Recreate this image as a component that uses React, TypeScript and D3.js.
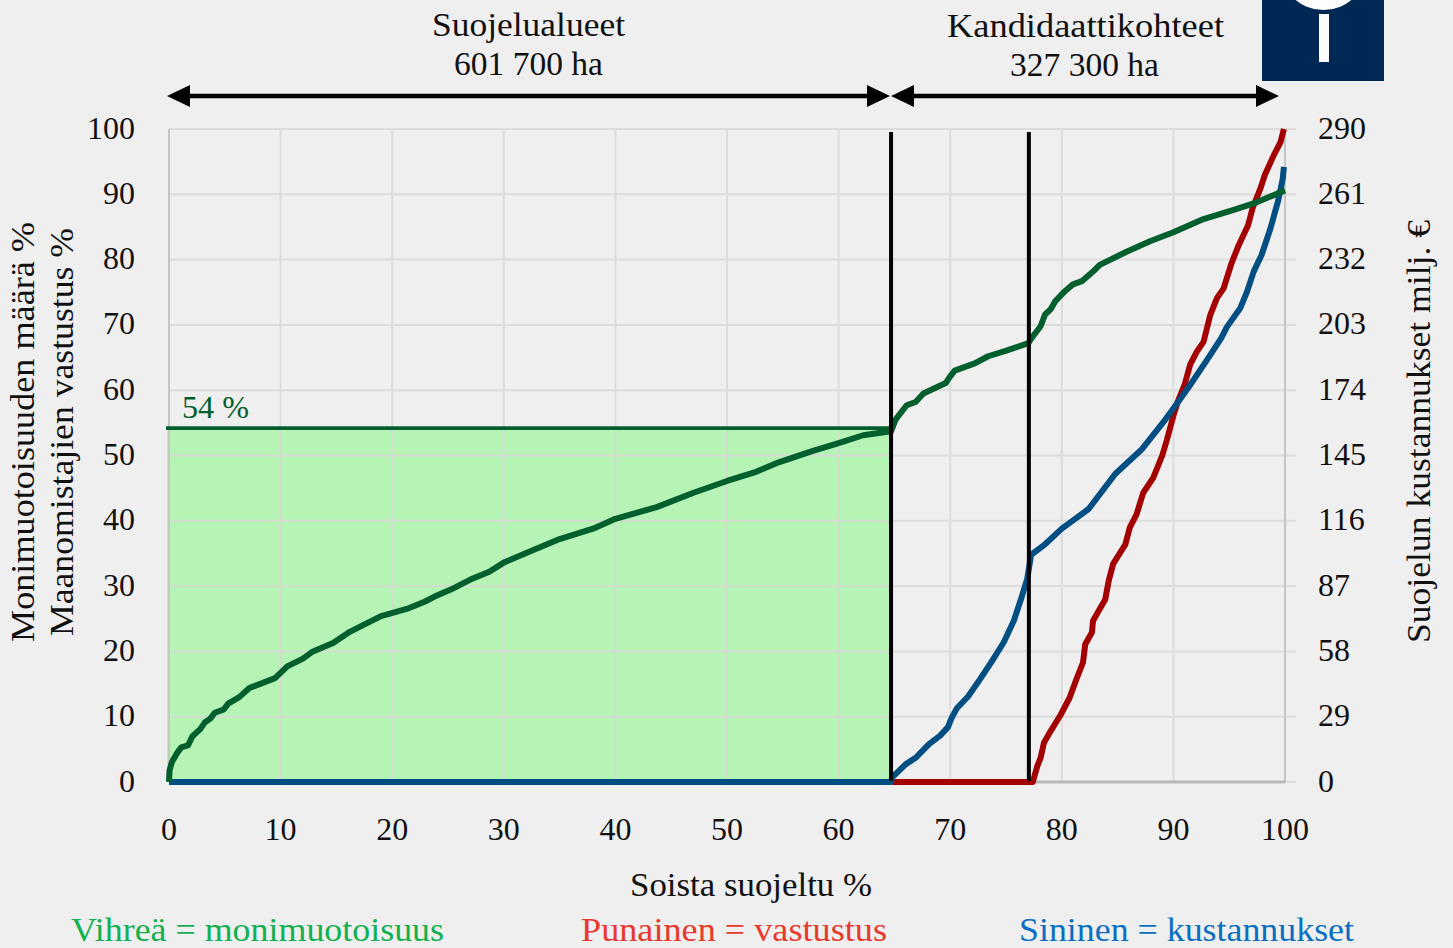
import React from "react";
import * as d3 from "d3";

type P = [number, number];
const leftTicks = [0, 10, 20, 30, 40, 50, 60, 70, 80, 90, 100];
const rightTicks = [0, 29, 58, 87, 116, 145, 174, 203, 232, 261, 290];
const xTicks = [0, 10, 20, 30, 40, 50, 60, 70, 80, 90, 100];

const diversity: P[] = [[0,0],[0.05,1.8],[0.27,3.1],[0.75,4.5],[1.1,5.3],[1.7,5.6],[2.1,7],[2.8,8.1],[3.2,9.1],[3.7,9.7],[4.1,10.6],[4.9,11.1],[5.3,12],[6.3,13],[7.2,14.4],[9.5,15.9],[10.6,17.7],[12,18.9],[12.9,20],[14.7,21.3],[16.2,23],[17.7,24.3],[19,25.4],[21.3,26.5],[22.9,27.6],[23.8,28.4],[25.3,29.5],[27,31],[28.7,32.2],[30,33.6],[32.6,35.5],[35,37.2],[38,38.8],[40,40.3],[43.7,42.1],[47,44.3],[50,46.1],[52.6,47.5],[54.7,49],[57.7,50.7],[60,51.9],[62.2,53.1],[64.7,53.7],[65.1,55.5],[66.1,57.7],[66.9,58.2],[67.6,59.5],[69.6,61.1],[69.9,61.9],[70.4,63],[72.2,64.1],[73.4,65.2],[75.1,66.1],[77,67.2],[77.3,68],[78.1,69.8],[78.5,71.6],[79,72.4],[79.4,73.6],[80.3,75.2],[81,76.2],[81.8,76.7],[83,78.5],[83.4,79.2],[85.8,81.2],[87.9,82.8],[90,84.2],[92.7,86.2],[95.4,87.6],[97.2,88.6],[100,90.6]];
const costs: P[] = [[0,0],[64.7,0],[64.8,0.7],[66,2.7],[66.9,3.7],[68.1,5.8],[69.1,7.1],[69.8,8.4],[70.1,9.7],[70.6,11.3],[71.6,13.1],[72.5,15.3],[73.7,18.4],[74.8,21.4],[75.7,24.7],[76.4,28.3],[76.9,31.1],[77.25,34.8],[78.5,36.4],[80,38.8],[82.4,41.8],[84.8,47.2],[87.2,51],[89.1,55.1],[90.6,58.6],[91.5,60.8],[93,64.6],[94.3,68],[94.8,69.7],[96,72.6],[96.6,75.1],[97.2,78.2],[97.9,80.7],[98.7,84.8],[99.4,89.1],[99.8,92.4],[99.9,94.2]];
const opposition: P[] = [[64.8,0],[77.4,0],[77.8,2.4],[78.1,3.7],[78.4,6],[79,7.8],[79.9,10.3],[80.7,12.9],[81.3,15.7],[81.9,18.3],[82.1,21.1],[82.7,22.9],[82.8,24.7],[83.9,28],[84.2,30.8],[84.6,33.4],[85.7,36.4],[86.1,39],[86.7,41],[87.3,44.3],[88.2,46.6],[89,50],[89.4,52.3],[90,56.1],[90.4,58.3],[91,60.8],[91.5,63.9],[92.1,65.9],[92.7,67.4],[93.3,71.5],[93.9,74.1],[94.5,75.6],[95.2,79.4],[95.8,82],[96.7,85.3],[97.1,87.9],[97.8,90.9],[98.2,93],[99,96],[99.6,98],[99.9,100]];
const protectedShare = 64.7;
const protectedLevel = 54.2;
const candidateShare = 77.05;

const FONT = "'Liberation Serif', serif";
const GREEN = "#005f2d";
const x = d3.scaleLinear().domain([0, 100]).range([169, 1285]);
const y = d3.scaleLinear().domain([0, 100]).range([782, 129]);
const yR = d3.scaleLinear().domain([0, 290]).range([782, 129]);
const line = d3.line<P>().x((d) => x(d[0])).y((d) => y(d[1])).curve(d3.curveLinear);

function Arrow({ x1, x2, py }: { x1: number; x2: number; py: number }) {
  const h = 23, w = 11;
  return (
    <g fill="#000">
      <line x1={x1 + h - 2} x2={x2 - h + 2} y1={py} y2={py} stroke="#000" strokeWidth={4.5} />
      <path d={`M${x1},${py}L${x1 + h},${py - w}L${x1 + h},${py + w}Z`} />
      <path d={`M${x2},${py}L${x2 - h},${py - w}L${x2 - h},${py + w}Z`} />
    </g>
  );
}

const T = (p: any) => <text fontFamily={FONT} fontSize={32} fill="#111" {...p} />;
const L = ({ len, ...p }: any) => <text fontFamily={FONT} fontSize={33} fill="#111" textLength={len} lengthAdjust="spacingAndGlyphs" {...p} />;

export default function App() {
  return (
    <svg width={1453} height={948} viewBox="0 0 1453 948" style={{ position: "fixed", left: 0, top: 0, background: "#efefef" }}>
      {leftTicks.map((t) => (
        <line key={t} x1={169} x2={1296} y1={y(t)} y2={y(t)} stroke="#dcdcdc" strokeWidth={2} />
      ))}
      {xTicks.map((t) => (
        <line key={t} x1={x(t)} x2={x(t)} y1={129} y2={782} stroke={t === 0 || t === 100 ? "#c4c4c4" : "#dcdcdc"} strokeWidth={2} />
      ))}
      <rect x={x(0) - 2} y={y(protectedLevel)} width={x(protectedShare) - x(0) + 2} height={y(0) - y(protectedLevel)} fill="#b6f4b6" />
      {leftTicks.filter((t) => t < protectedLevel).map((t) => (
        <line key={t} x1={169} x2={x(protectedShare)} y1={y(t)} y2={y(t)} stroke="#d2dccf" strokeWidth={2} />
      ))}
      {xTicks.filter((t) => t <= 60).map((t) => (
        <line key={t} x1={x(t)} x2={x(t)} y1={y(protectedLevel)} y2={782} stroke={t === 0 ? "#c4c9c0" : "#d2dccf"} strokeWidth={2} />
      ))}
      <line x1={169} x2={1285} y1={782} y2={782} stroke="#b8b8b8" strokeWidth={3} />
      <line x1={x(0) - 3} x2={x(protectedShare)} y1={y(protectedLevel)} y2={y(protectedLevel)} stroke={GREEN} strokeWidth={3.8} />
      <path d={line(opposition) ?? ""} fill="none" stroke="#a30000" strokeWidth={6} strokeLinejoin="round" />
      <path d={line(costs) ?? ""} fill="none" stroke="#004e82" strokeWidth={6} strokeLinejoin="round" />
      <path d={line(diversity) ?? ""} fill="none" stroke={GREEN} strokeWidth={6} strokeLinejoin="round" />
      <line x1={x(protectedShare)} x2={x(protectedShare)} y1={132} y2={781} stroke="#000" strokeWidth={4} />
      <line x1={x(candidateShare)} x2={x(candidateShare)} y1={132} y2={781} stroke="#000" strokeWidth={4} />

      {leftTicks.map((t) => <T key={t} x={135} y={y(t) + 9.5} textAnchor="end">{t}</T>)}
      {rightTicks.map((t) => <T key={t} x={1318} y={yR(t) + 9.5}>{t}</T>)}
      {xTicks.map((t) => <T key={t} x={x(t)} y={840} textAnchor="middle">{t}</T>)}

      <L x={630} y={896} len={242}>Soista suojeltu %</L>
      <L x={432} y={36} len={193}>Suojelualueet</L>
      <L x={454} y={75} len={149}>601 700 ha</L>
      <L x={947} y={37} len={277}>Kandidaattikohteet</L>
      <L x={1010} y={76} len={149}>327 300 ha</L>
      <L x={182} y={418} len={67} fill={GREEN} fontSize={32}>54 %</L>
      <L x={71} y={941} len={373} fill="#12b050">Vihreä = monimuotoisuus</L>
      <L x={581} y={941} len={306} fill="#e8392c">Punainen = vastustus</L>
      <L x={1019} y={941} len={335} fill="#0a6fc0">Sininen = kustannukset</L>
      <L transform="translate(34,642) rotate(-90)" len={420}>Monimuotoisuuden määrä %</L>
      <L transform="translate(73,636) rotate(-90)" len={408}>Maanomistajien vastustus %</L>
      <L transform="translate(1430,643) rotate(-90)" len={423}>Suojelun kustannukset milj. €</L>

      <Arrow x1={167} x2={890} py={96} />
      <Arrow x1={891} x2={1279} py={96} />

      <rect x={1262} y={0} width={122} height={81} fill="#002855" />
      <circle cx={1323.5} cy={-34} r={44} fill="#fdfdfd" />
      <rect x={1319} y={14} width={10} height={48} fill="#fdfdfd" />
    </svg>
  );
}
